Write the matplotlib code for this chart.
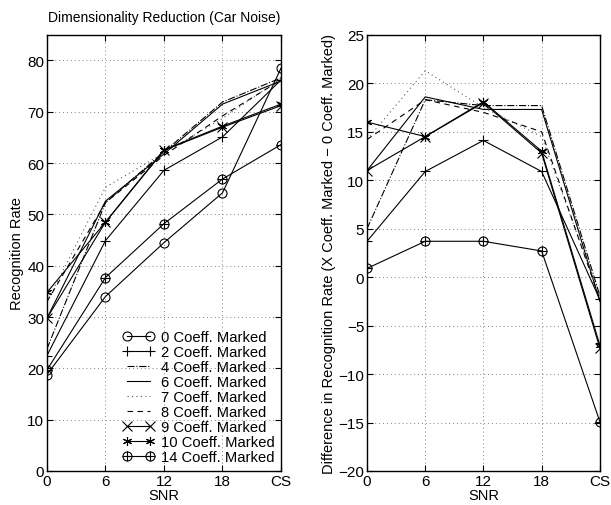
import numpy as np
import matplotlib.pyplot as plt
from matplotlib.legend_handler import HandlerTuple

plt.rcParams['font.family'] = ['Liberation Sans', 'DejaVu Sans']

# SNR conditions (CS = clean speech)
snr_pos = [0, 6, 12, 18, 24]
snr_labels = ['0', '6', '12', '18', 'CS']

# recognition rate (%) per number of marked coefficients
rate_0 = [18.8, 34.0, 44.5, 54.2, 78.5]
rate_2 = [22.5, 44.9, 58.6, 65.1, 76.2]
rate_4 = [23.8, 52.3, 62.2, 71.9, 76.6]
rate_6 = [29.8, 52.6, 61.8, 71.5, 76.0]
rate_7 = [33.0, 55.3, 62.0, 68.7, 76.5]
rate_8 = [33.0, 52.3, 61.5, 69.2, 76.2]
rate_9 = [29.8, 48.5, 62.5, 67.0, 71.2]
rate_10 = [34.8, 48.5, 62.6, 67.2, 71.5]
rate_14 = [19.7, 37.7, 48.2, 56.9, 63.6]

asterisk = (6, 2, 0)
series = [
    ('0 Coeff. Marked', rate_0, dict(ls='-', marker='o', mfc='none')),
    ('2 Coeff. Marked', rate_2, dict(ls='-', marker='+')),
    ('4 Coeff. Marked', rate_4, dict(ls='-.')),
    ('6 Coeff. Marked', rate_6, dict(ls='-')),
    ('7 Coeff. Marked', rate_7, dict(ls=(0, (1, 3)), color='0.35')),
    ('8 Coeff. Marked', rate_8, dict(ls=(0, (5, 4)))),
    ('9 Coeff. Marked', rate_9, dict(ls='-', marker='x')),
    ('10 Coeff. Marked', rate_10, dict(ls='-', marker=asterisk)),
    ('14 Coeff. Marked', rate_14, None),
]

fig = plt.figure(figsize=(6.11, 5.06), dpi=100)
ax1 = fig.add_axes([0.0769, 0.0672, 0.383, 0.862])
ax2 = fig.add_axes([0.6007, 0.0672, 0.381, 0.862])


def draw(ax, values_of, skip_base=False):
    handles = []
    for name, vals, style in series:
        if skip_base and vals is rate_0:
            continue
        y = values_of(vals)
        if style is None:
            # circle with a plus through it
            l1, = ax.plot(snr_pos, y, color='k', lw=0.8, marker='o', mfc='none', ms=6.5, mew=0.8)
            l2, = ax.plot(snr_pos, y, color='k', lw=0, marker='+', ms=6.5, mew=0.8)
            handles.append(((l1, l2), name))
        else:
            st = dict(color='k', lw=0.8, ms=6.5, mew=0.8)
            st.update(style)
            l, = ax.plot(snr_pos, y, **st)
            handles.append((l, name))
    ax.set_xlim(0, 24)
    ax.set_xticks(snr_pos)
    ax.set_xticklabels(snr_labels)
    ax.grid(True, ls=(0, (1, 3)), color='0.5', lw=0.7)
    ax.tick_params(direction='in', top=True, right=True, labelsize=11, length=4, pad=2)
    for s in ax.spines.values():
        s.set_linewidth(1.0)
    ax.set_xlabel('SNR', fontsize=10.5, labelpad=0)
    return handles


handles = draw(ax1, lambda v: v)
ax1.set_ylim(0, 85)
ax1.set_yticks(np.arange(0, 81, 10))
ax1.set_ylabel('Recognition Rate', fontsize=10.5, labelpad=2)
ax1.set_title('Dimensionality Reduction (Car Noise)', fontsize=10, pad=10)
ax1.legend([h for h, _ in handles], [n for _, n in handles], loc='lower right',
           frameon=False, fontsize=10.6, numpoints=2, handlelength=2.1,
           handletextpad=0.45, labelspacing=0.07, borderaxespad=0.05,
           handler_map={tuple: HandlerTuple(ndivide=1)})

# difference to the 0-coefficient baseline
draw(ax2, lambda v: np.array(v) - np.array(rate_0), skip_base=True)
ax2.set_ylim(-20, 25)
ax2.set_yticks(np.arange(-20, 26, 5))
ax2.set_yticklabels([str(t).replace('-', '\u2212') for t in range(-20, 26, 5)])
ax2.set_ylabel('Difference in Recognition Rate (X Coeff. Marked \u2212 0 Coeff. Marked)',
               fontsize=10.5, labelpad=2)

fig.savefig('out.png', dpi=100)
